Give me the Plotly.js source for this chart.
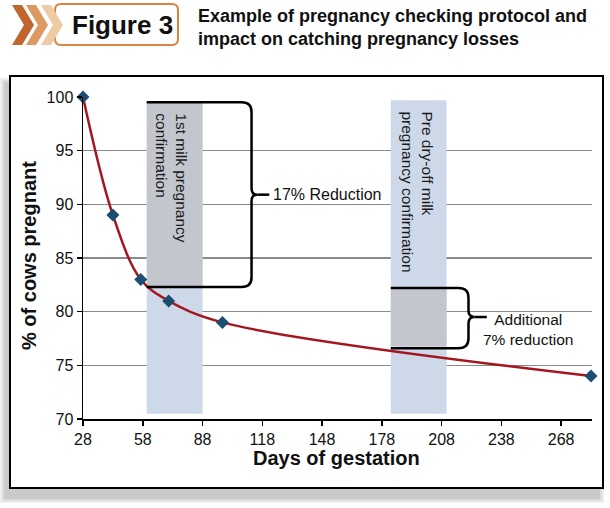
<!DOCTYPE html>
<html>
<head>
<meta charset="utf-8">
<script src="https://cdn.plot.ly/plotly-3.0.1.min.js"></script>
<style>html,body{margin:0;padding:0;background:#fff;}#chart{width:610px;height:508px;}</style>
</head>
<body>
<div id="chart"></div>
<script>
// ---- data ----
const days = [28, 43, 57, 71, 98, 283];
const pctPregnant = [100, 89, 83, 81, 79, 74];
const xTickVals = [28, 58, 88, 118, 148, 178, 208, 238, 268];
const yTickVals = [70, 75, 80, 85, 90, 95, 100];
const bandStart = [60, 182.5];
const bandEnd = [88, 210.5];
const bandTop = [99.6, 99.7];
const bandBottom = [70.5, 70.5];
const grayTop = [99.6, 82.2];
const grayBottom = [82.3, 76.8];
const bandLabels = ["1st milk pregnancy<br>confirmation", "Pre dry-off milk<br>pregnancy confirmation"];
const braceLabels = ["17% Reduction", "Additional<br>7% reduction"];
const titleLines = ["Example of pregnancy checking protocol and", "impact on catching pregnancy losses"];
const figureLabel = "Figure 3";
const xTitle = "Days of gestation";
const yTitle = "% of cows pregnant";

// ---- layout geometry ----
const M = {l: 83, r: 18, t: 97, b: 89};
const FW = 610, FH = 508;
const PW = FW - M.l - M.r, PH = FH - M.t - M.b;
const px = x => (x - M.l) / PW;
const py = y => (M.t + PH - y) / PH;
const FONT = "Liberation Sans, Arial, sans-serif";

const shapes = [];
// shadow + frame
[[0.10, 4], [0.12, 2], [0.14, 0]].forEach(([op, g]) => {
  shapes.push({type: 'rect', xref: 'paper', yref: 'paper', layer: 'below',
    x0: px(4 - g), x1: px(600 + g), y0: py(499 + g), y1: py(82 - g),
    fillcolor: 'rgba(90,90,90,' + op + ')', line: {width: 0}});
});
shapes.push({type: 'rect', xref: 'paper', yref: 'paper', layer: 'below',
  x0: px(10), x1: px(603), y0: py(488), y1: py(76),
  fillcolor: '#ffffff', line: {color: '#000000', width: 2}});

// bands
for (let i = 0; i < bandStart.length; i++) {
  shapes.push({type: 'rect', xref: 'x', yref: 'y', layer: 'between',
    x0: bandStart[i], x1: bandEnd[i], y0: bandBottom[i], y1: bandTop[i],
    fillcolor: '#cdd9e9', line: {width: 0}});
  shapes.push({type: 'rect', xref: 'x', yref: 'y', layer: 'between',
    x0: bandStart[i], x1: bandEnd[i], y0: grayBottom[i], y1: grayTop[i],
    fillcolor: '#c3c6cc', line: {width: 0}});
}

// braces
function brace(x0, xv, yt, yb, ym, xtip, rx, ry, rm) {
  return `M ${x0},${yt} L ${xv - rx},${yt} Q ${xv},${yt} ${xv},${yt - ry} ` +
    `L ${xv},${ym + rm} Q ${xv},${ym} ${xtip},${ym} Q ${xv},${ym} ${xv},${ym - rm} ` +
    `L ${xv},${yb + ry} Q ${xv},${yb} ${xv - rx},${yb} L ${x0},${yb}`;
}
const braceLeft = [60, 182.5], braceX = [112.6, 221.5], braceTop = [99.5, 82.2],
      braceBot = [82.3, 76.6], braceMid = [90.9, 79.5], braceTip = [115.5, 224.5], braceLineEnd = [121.5, 230.7];
for (let i = 0; i < 2; i++) {
  shapes.push({type: 'path', xref: 'x', yref: 'y', layer: 'above',
    path: brace(braceLeft[i], braceX[i], braceTop[i], braceBot[i], braceMid[i], braceTip[i], 5, 0.9, 0.6),
    line: {color: '#000', width: 2.5}});
  shapes.push({type: 'line', xref: 'x', yref: 'y', layer: 'above',
    x0: braceTip[i], x1: braceLineEnd[i], y0: braceMid[i], y1: braceMid[i],
    line: {color: '#000', width: 2.5}});
}

// header: chevrons and badge
const chevColors = ['#c1652e', '#dc9a62', '#efcba3'];
const chevX = [12, 26, 41];
const cw = 10, cd = 12, ct = 5, cb = 45, cm = 25;
// badge (drawn first so light chevron overlaps it)
(function () {
  const x0 = 55, x1 = 178, y0 = 4, y1 = 45, r = 6;
  const p = `M ${px(x0 + r)},${py(y0)} L ${px(x1 - r)},${py(y0)} Q ${px(x1)},${py(y0)} ${px(x1)},${py(y0 + r)} ` +
    `L ${px(x1)},${py(y1 - r)} Q ${px(x1)},${py(y1)} ${px(x1 - r)},${py(y1)} L ${px(x0 + r)},${py(y1)} ` +
    `Q ${px(x0)},${py(y1)} ${px(x0)},${py(y1 - r)} L ${px(x0)},${py(y0 + r)} Q ${px(x0)},${py(y0)} ${px(x0 + r)},${py(y0)} Z`;
  shapes.push({type: 'path', xref: 'paper', yref: 'paper', layer: 'above', path: p,
    fillcolor: '#ffffff', line: {color: '#d9853f', width: 2}});
})();
for (let i = 0; i < 3; i++) {
  const x = chevX[i];
  const p = `M ${px(x)},${py(ct)} L ${px(x + cw)},${py(ct)} L ${px(x + cw + cd)},${py(cm)} L ${px(x + cw)},${py(cb)} ` +
    `L ${px(x)},${py(cb)} L ${px(x + cd)},${py(cm)} Z`;
  shapes.push({type: 'path', xref: 'paper', yref: 'paper', layer: 'above', path: p,
    fillcolor: chevColors[i], line: {width: 0}});
}

const annotations = [
  {text: bandLabels[0], x: 72.4, y: 92.47, xref: 'x', yref: 'y', textangle: 90, align: 'left',
    showarrow: false, xanchor: 'center', yanchor: 'middle', font: {family: FONT, size: 15.5, color: '#1a1a1a'}},
  {text: bandLabels[1], x: 195.9, y: 91.16, xref: 'x', yref: 'y', textangle: 90, align: 'left',
    showarrow: false, xanchor: 'center', yanchor: 'middle', font: {family: FONT, size: 15.5, color: '#1a1a1a'}},
  {text: braceLabels[0], x: 122.3, y: 90.9, xref: 'x', yref: 'y', showarrow: false,
    xanchor: 'left', yanchor: 'middle', font: {family: FONT, size: 16, color: '#111'}},
  {text: braceLabels[1], x: 251.2, y: 78.35, xref: 'x', yref: 'y', showarrow: false, align: 'center',
    xanchor: 'center', yanchor: 'middle', font: {family: FONT, size: 15.5, color: '#111'}},
  {text: '<b>' + xTitle + '</b>', x: px(336), y: py(458), xref: 'paper', yref: 'paper', showarrow: false,
    xanchor: 'center', yanchor: 'middle', font: {family: FONT, size: 20, color: '#111'}},
  {text: '<b>' + yTitle + '</b>', x: px(29), y: py(256), xref: 'paper', yref: 'paper', showarrow: false,
    textangle: -90, xanchor: 'center', yanchor: 'middle', font: {family: FONT, size: 20, color: '#111'}},
  {text: '<b>' + figureLabel + '</b>', x: px(122), y: py(25), xref: 'paper', yref: 'paper', showarrow: false,
    xanchor: 'center', yanchor: 'middle', font: {family: FONT, size: 26, color: '#111'}},
  {text: '<b>' + titleLines[0] + '</b>', x: px(196), y: py(15.5), xref: 'paper', yref: 'paper', showarrow: false,
    xanchor: 'left', yanchor: 'middle', font: {family: FONT, size: 18, color: '#111'}},
  {text: '<b>' + titleLines[1] + '</b>', x: px(196), y: py(39), xref: 'paper', yref: 'paper', showarrow: false,
    xanchor: 'left', yanchor: 'middle', font: {family: FONT, size: 18, color: '#111'}}
];

const trace = {
  x: days, y: pctPregnant, type: 'scatter', mode: 'lines+markers',
  line: {color: '#a3161d', width: 2.5, shape: 'spline', smoothing: 1},
  marker: {symbol: 'diamond', size: 10, color: '#1c4e72'},
  cliponaxis: false, hoverinfo: 'x+y'
};

const layout = {
  width: FW, height: FH,
  margin: M,
  paper_bgcolor: '#ffffff', plot_bgcolor: 'rgba(0,0,0,0)',
  showlegend: false,
  font: {family: FONT, color: '#111'},
  xaxis: {range: [28, 283.5], tickvals: xTickVals, ticktext: xTickVals.map(String),
    showgrid: false, zeroline: false, showline: true, linecolor: '#000', linewidth: 1.5,
    ticks: 'outside', ticklen: 5, tickwidth: 1.5, tickcolor: '#000',
    tickfont: {family: FONT, size: 16, color: '#111'}, fixedrange: true},
  yaxis: {range: [70, 100], tickvals: yTickVals, ticktext: yTickVals.map(String),
    showgrid: true, gridcolor: '#8a8a8a', gridwidth: 1.3, zeroline: false,
    showline: true, linecolor: '#000', linewidth: 1.5,
    ticks: 'outside', ticklen: 5, tickwidth: 1.5, tickcolor: '#000',
    tickfont: {family: FONT, size: 16, color: '#111'}, fixedrange: true},
  shapes: shapes,
  annotations: annotations
};

Plotly.newPlot('chart', [trace], layout, {displayModeBar: false, staticPlot: true});
</script>
</body>
</html>
